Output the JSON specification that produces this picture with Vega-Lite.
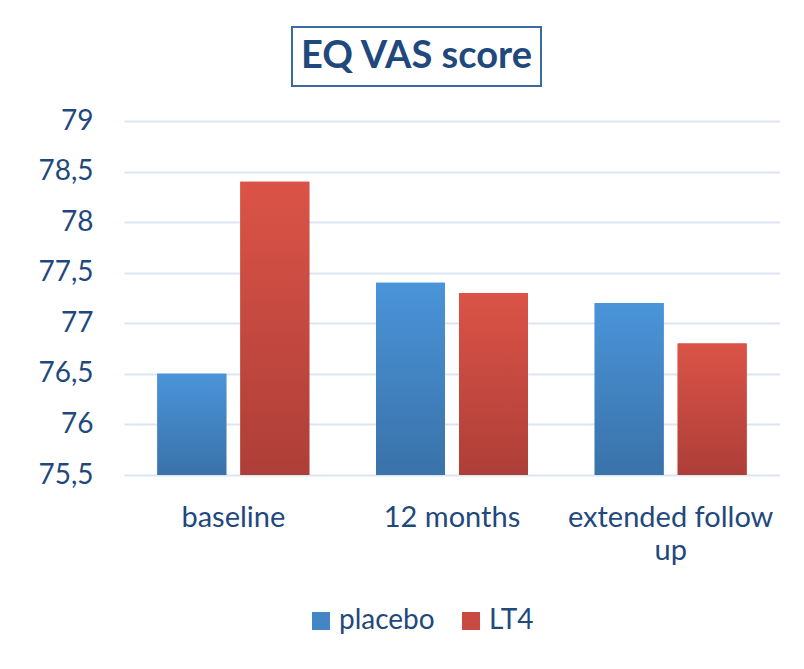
{
  "$schema": "https://vega.github.io/schema/vega-lite/v6.json",
  "padding": {"left": 37, "top": 26, "right": 0, "bottom": 0},
  "background": "white",
  "spacing": 20,
  "config": {"font": "Lato", "view": {"stroke": null}},
  "datasets": {
    "scores": [
      {"period": "baseline", "series": "placebo", "value": 76.5},
      {"period": "baseline", "series": "LT4", "value": 78.4},
      {"period": "12 months", "series": "placebo", "value": 77.4},
      {"period": "12 months", "series": "LT4", "value": 77.3},
      {"period": "extended follow up", "series": "placebo", "value": 77.2},
      {"period": "extended follow up", "series": "LT4", "value": 76.8}
    ],
    "heading": [{"text": "EQ VAS score"}],
    "blank": []
  },
  "vconcat": [
    {
      "spacing": 0,
      "hconcat": [
        {
          "width": 167,
          "height": 59,
          "data": {"name": "blank"},
          "mark": {"type": "text"},
          "encoding": {"text": {"field": "text"}}
        },
        {
          "width": 249,
          "height": 59,
          "view": {"stroke": "#3b6aa0", "strokeWidth": 2},
          "data": {"name": "heading"},
          "mark": {"type": "text", "font": "Lato", "fontWeight": "bold", "fontSize": 38, "color": "#1f497d", "align": "center", "baseline": "middle"},
          "encoding": {"text": {"field": "text"}}
        }
      ]
    },
    {
      "width": 656,
      "height": 354,
      "data": {"name": "scores"},
      "encoding": {
        "x": {
          "field": "period", "type": "nominal",
          "sort": ["baseline", "12 months", "extended follow up"],
          "scale": {"paddingInner": 0.305, "paddingOuter": 0.1525},
          "axis": {
            "title": null, "labelAngle": 0, "domain": false, "ticks": false,
            "labelFontSize": 29, "labelColor": "#1f497d", "labelPadding": 28,
            "labelLineHeight": 33, "labelLimit": 300,
            "labelExpr": "datum.label == 'extended follow up' ? ['extended follow', 'up'] : datum.label"
          }
        },
        "xOffset": {
          "field": "series", "type": "nominal",
          "sort": ["placebo", "LT4"],
          "scale": {"paddingInner": 0.169, "paddingOuter": 0}
        },
        "y": {
          "field": "value", "type": "quantitative",
          "scale": {"domain": [75.5, 79], "zero": false, "nice": false},
          "axis": {
            "title": null, "domain": false, "ticks": false,
            "values": [75.5, 76, 76.5, 77, 77.5, 78, 78.5, 79],
            "labelFontSize": 28, "labelColor": "#1f497d", "labelPadding": 31,
            "gridColor": "#dce6f2", "gridWidth": 2,
            "labelExpr": "replace(toString(datum.value), '.', ',')"
          }
        },
        "y2": {"datum": 75.5}
      },
      "layer": [
        {
          "mark": {"type": "bar"},
          "encoding": {
            "color": {
              "field": "series", "type": "nominal",
              "sort": ["placebo", "LT4"],
              "scale": {"domain": ["placebo", "LT4"], "range": ["#4485c6", "#c94a40"]},
              "legend": {
                "title": null, "orient": "none", "legendX": 183, "legendY": 580,
                "direction": "horizontal", "symbolType": "square", "symbolSize": 324,
                "symbolStrokeWidth": 0, "labelFontSize": 28, "labelColor": "#1f497d",
                "columnPadding": 22, "labelOffset": 4
              }
            }
          }
        },
        {
          "mark": {"type": "bar"},
          "encoding": {
            "color": {
              "condition": {
                "test": "datum.series == 'placebo'",
                "value": {"gradient": "linear", "x1": 0, "y1": 0, "x2": 0, "y2": 1, "stops": [{"offset": 0, "color": "#4a94d9"}, {"offset": 1, "color": "#3a72a9"}]}
              },
              "value": {"gradient": "linear", "x1": 0, "y1": 0, "x2": 0, "y2": 1, "stops": [{"offset": 0, "color": "#db5347"}, {"offset": 1, "color": "#ad3f38"}]}
            }
          }
        }
      ]
    }
  ]
}
